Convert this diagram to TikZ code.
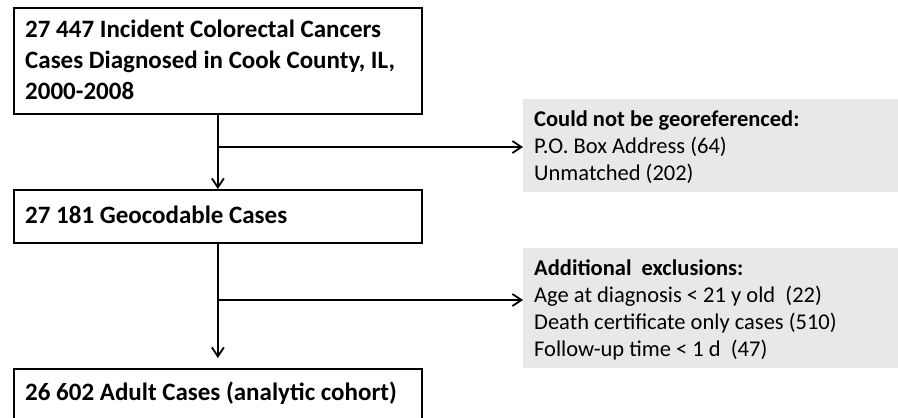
\documentclass[tikz,border=0pt]{standalone}
\usepackage{fontspec}
\setmainfont{Carlito}
\usetikzlibrary{arrows.meta}
\definecolor{boxgray}{RGB}{232,232,232}
\tikzset{
  flowbox/.style={draw=black, line width=1.8pt, fill=white, inner sep=0pt, anchor=north west},
  graybox/.style={fill=boxgray, draw=none, inner sep=0pt, anchor=north west},
  maintxt/.style={font=\fontsize{25}{31}\selectfont\bfseries, anchor=base west, align=left, inner sep=0pt},
  sidetxt/.style={font=\fontsize{22.5}{27}\selectfont, anchor=base west, align=left, inner sep=0pt},
  arr/.style={line width=1.8pt, -{Straight Barb[length=9pt,width=12pt,line width=1.8pt]}},
  conn/.style={line width=1.8pt}
}
\begin{document}
\begin{tikzpicture}[x=1pt,y=-1pt]
\useasboundingbox (0,0) rectangle (898,418);
\clip (0,0) rectangle (898,418);
% boxes
\node[flowbox, minimum width=408pt, minimum height=106pt] (b1) at (13,7) {};
\node[flowbox, minimum width=408pt, minimum height=53pt] (b2) at (13,189) {};
\node[flowbox, minimum width=408pt, minimum height=60pt] (b3) at (13,368) {};
\node[graybox, minimum width=380pt, minimum height=93pt] (g1) at (523,99) {};
\node[graybox, minimum width=380pt, minimum height=120pt] (g2) at (523,248) {};
% texts (base anchor = baseline of the last line)
\node[maintxt] (t1) at (25,99) {27 447 Incident Colorectal Cancers\\Cases Diagnosed in Cook County, IL,\\2000-2008};
\node[maintxt] (t2) at (25,223) {27 181 Geocodable Cases};
\node[maintxt] (t3) at (25,400) {26 602 Adult Cases (analytic cohort)};
\node[sidetxt] (s1) at (534,180) {\textbf{Could not be georeferenced:}\\P.O. Box Address (64)\\Unmatched (202)};
\node[sidetxt] (s2) at (534,356) {\textbf{Additional\ \ exclusions:}\\Age at diagnosis < 21 y old\ \ (22)\\Death certificate only cases (510)\\Follow-up time < 1 d\ \ (47)};
% connectors
\coordinate (j1) at (217,147);
\coordinate (j2) at (217,300);
\draw[arr] (b1.south) -- (b2.north);
\draw[arr] (j1) -- (j1 -| g1.west);
\draw[arr, shorten >=10pt] (b2.south) -- (b3.north);
\draw[arr] (j2) -- (j2 -| g2.west);
\end{tikzpicture}
\end{document}
